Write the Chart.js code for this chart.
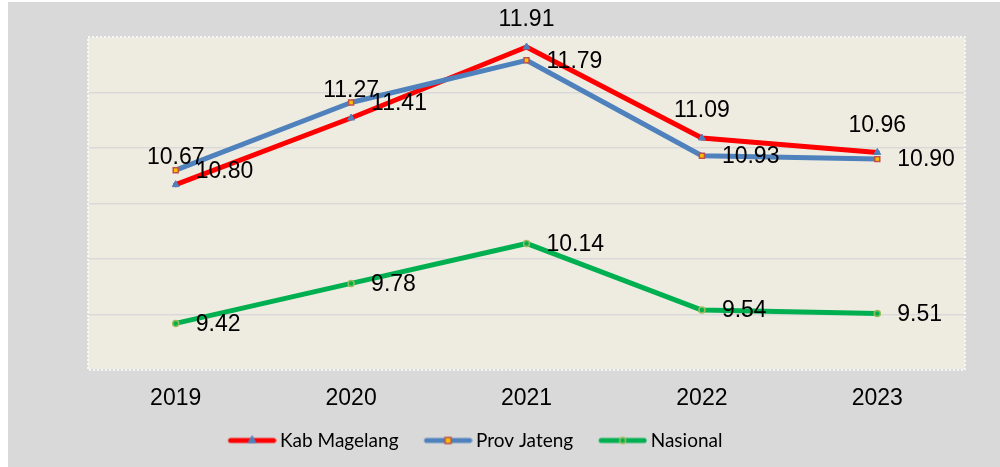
<!DOCTYPE html>
<html>
<head>
<meta charset="utf-8">
<script src="https://cdn.jsdelivr.net/npm/chart.js@4.4.1/dist/chart.umd.min.js"></script>
<style>
  html, body { margin: 0; padding: 0; background: #ffffff; }
  #wrap { position: absolute; left: 0; top: 0; width: 1000px; height: 467px; }
</style>
</head>
<body>
<div id="wrap"><canvas id="c" width="1000" height="467"></canvas></div>
<script>
// Data
const years = ['2019', '2020', '2021', '2022', '2023'];
const kabMagelang = [10.67, 11.27, 11.91, 11.09, 10.96];
const provJateng = [10.80, 11.41, 11.79, 10.93, 10.90];
const nasional = [9.42, 9.78, 10.14, 9.54, 9.51];
const seriesNames = ['Kab Magelang', 'Prov Jateng', 'Nasional'];

const RED = '#ff0000';
const BLUE = '#4f81bd';
const GREEN = '#00b050';
const ARIAL = 'Arial, "Liberation Sans", sans-serif';

// legend swatch: line + marker, like Excel. The image is wider than the
// legend box so the line ends close to the text.
function swatch(color, style, mFill, mBorder) {
  const cv = document.createElement('canvas');
  cv.width = 60;
  cv.height = 12;
  const g = cv.getContext('2d');
  g.strokeStyle = color;
  g.lineWidth = 5;
  g.lineCap = 'round';
  g.beginPath();
  g.moveTo(14, 6);
  g.lineTo(57, 6);
  g.stroke();
  g.fillStyle = mFill;
  g.strokeStyle = mBorder;
  g.lineWidth = 1.5;
  g.beginPath();
  const cx = 35.5;
  if (style === 'triangle') {
    g.moveTo(cx, 2);
    g.lineTo(cx + 3.5, 8);
    g.lineTo(cx - 3.5, 8);
    g.closePath();
  } else if (style === 'rect') {
    g.rect(cx - 3, 3, 6, 6);
  } else {
    g.arc(cx, 6, 3, 0, Math.PI * 2);
  }
  g.fill();
  g.stroke();
  return cv;
}

const swatches = [
  swatch(RED, 'triangle', BLUE, BLUE),
  swatch(BLUE, 'rect', '#ffc000', '#c0504d'),
  swatch(GREEN, 'circle', GREEN, '#9bbb59')
];

// where each series puts its value labels: 'top' or 'right'
const labelSide = ['top', 'right', 'right'];

const bgPlugin = {
  id: 'bg',
  afterLayout(chart) {
    // Excel legend sits a bit left of the centre
    chart.legend.left -= 10;
    chart.legend.right -= 10;
  },
  beforeDraw(chart) {
    const ctx = chart.ctx;
    const a = chart.chartArea;
    ctx.save();
    ctx.fillStyle = '#d9d9d9';
    ctx.fillRect(8, 2, chart.width - 8, chart.height - 2);
    ctx.fillStyle = '#eeece1';
    ctx.fillRect(a.left, a.top, a.right - a.left, a.bottom - a.top);
    ctx.restore();
  },
  afterDraw(chart) {
    const ctx = chart.ctx;
    const a = chart.chartArea;
    ctx.save();
    ctx.strokeStyle = '#ffffff';
    ctx.lineWidth = 1.5;
    ctx.setLineDash([2, 2]);
    ctx.strokeRect(a.left, a.top, a.right - a.left, a.bottom - a.top);
    ctx.restore();
  }
};

const valueLabels = {
  id: 'valueLabels',
  afterDatasetsDraw(chart) {
    const ctx = chart.ctx;
    ctx.save();
    ctx.font = '23px ' + ARIAL;
    ctx.fillStyle = '#000000';
    chart.data.datasets.forEach(function (ds, i) {
      const meta = chart.getDatasetMeta(i);
      meta.data.forEach(function (pt, j) {
        const txt = ds.data[j].toFixed(2);
        ctx.textBaseline = 'middle';
        if (labelSide[i] === 'top') {
          ctx.textAlign = 'center';
          ctx.fillText(txt, pt.x, pt.y - 27);
        } else {
          ctx.textAlign = 'left';
          ctx.fillText(txt, pt.x + 20, pt.y + 1);
        }
      });
    });
    ctx.restore();
  }
};

new Chart(document.getElementById('c'), {
  type: 'line',
  data: {
    labels: years,
    datasets: [
      {
        label: seriesNames[0],
        data: kabMagelang,
        borderColor: RED,
        borderWidth: 5,
        pointStyle: 'triangle',
        pointRadius: 4,
        pointBackgroundColor: BLUE,
        pointBorderColor: BLUE,
        pointBorderWidth: 1,
        order: 3
      },
      {
        label: seriesNames[1],
        data: provJateng,
        borderColor: BLUE,
        borderWidth: 5,
        pointStyle: 'rect',
        pointRadius: 3.5,
        pointBackgroundColor: '#ffc000',
        pointBorderColor: '#c0504d',
        pointBorderWidth: 1.5,
        order: 2
      },
      {
        label: seriesNames[2],
        data: nasional,
        borderColor: GREEN,
        borderWidth: 5,
        pointStyle: 'circle',
        pointRadius: 3,
        pointBackgroundColor: GREEN,
        pointBorderColor: '#9bbb59',
        pointBorderWidth: 1.5,
        order: 1
      }
    ]
  },
  options: {
    responsive: false,
    animation: false,
    layout: { padding: { left: 0, right: 35, top: 37, bottom: 7 } },
    elements: { line: { tension: 0, borderJoinStyle: 'round', borderCapStyle: 'round' } },
    scales: {
      x: {
        offset: true,
        grid: { display: false },
        border: { display: false },
        ticks: {
          color: '#000000',
          padding: 7,
          font: { family: ARIAL, size: 23 }
        },
        afterFit(scale) {
          scale.height = 41;
        }
      },
      y: {
        min: 9,
        max: 12,
        ticks: { display: false, stepSize: 0.5 },
        grid: { color: '#d9d9d9', lineWidth: 1.5, drawTicks: false },
        border: { display: false },
        afterFit(scale) {
          scale.width = 88;
        }
      }
    },
    plugins: {
      tooltip: { enabled: false },
      legend: {
        position: 'bottom',
        labels: {
          color: '#000000',
          usePointStyle: true,
          pointStyleWidth: 48,
          padding: 20,
          font: { family: 'Lato, "Open Sans", sans-serif', size: 19 },
          generateLabels(chart) {
            return chart.data.datasets.map(function (ds, i) {
              return {
                text: ds.label,
                pointStyle: swatches[i],
                fillStyle: ds.borderColor,
                strokeStyle: ds.borderColor,
                lineWidth: 0,
                hidden: false,
                datasetIndex: i
              };
            });
          }
        }
      }
    }
  },
  plugins: [bgPlugin, valueLabels]
});
</script>
</body>
</html>
